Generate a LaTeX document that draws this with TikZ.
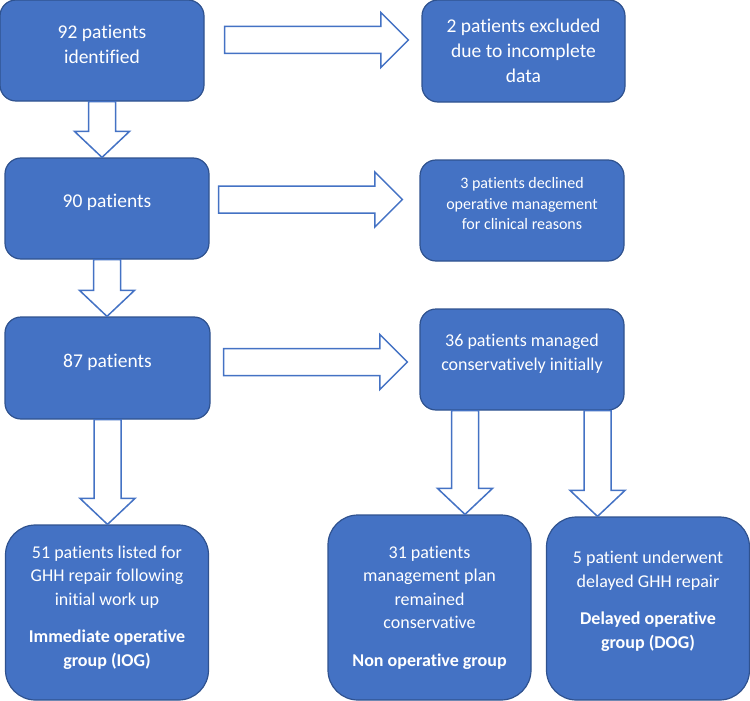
\documentclass[tikz,border=0pt]{standalone}
\usepackage{fontspec}
\setmainfont{Carlito}[Ligatures=NoCommon]
\usetikzlibrary{calc}
\definecolor{boxblue}{RGB}{68,114,196}
\definecolor{boxedge}{RGB}{47,82,143}
\definecolor{arrblue}{RGB}{68,114,196}

\begin{document}
\begin{tikzpicture}[
  x=1pt, y=-1pt,
  box/.style={draw=boxedge, fill=boxblue, line width=1.2pt, rounded corners=16pt, minimum width=204pt, minimum height=101pt},
  tall/.style={box, rounded corners=30pt, minimum width=203pt},
  txt/.style={text=white, align=center, font=\fontsize{19.5}{25}\selectfont},
  sml/.style={txt, font=\fontsize{16}{20.5}\selectfont},
  mid/.style={txt, font=\fontsize{18}{23.5}\selectfont},
  fatright/.style={draw=arrblue, fill=white, line width=1.5pt,
    to path={let \p1=(\tikztostart), \p2=(\tikztotarget) in
      (\x1,\y1+13.5) -- (\x2-27.5,\y1+13.5) -- (\x2-27.5,\y1+27.5) -- (\x2,\y1)
      -- (\x2-27.5,\y1-27.5) -- (\x2-27.5,\y1-13.5) -- (\x1,\y1-13.5) -- cycle}},
  fatdown/.style={draw=arrblue, fill=white, line width=1.5pt,
    to path={let \p1=(\tikztostart), \p2=(\tikztotarget) in
      (\x1-13.5,\y1) -- (\x1-13.5,\y2+26) -- (\x1-27.5,\y2+26) -- (\x1,\y2)
      -- (\x1+27.5,\y2+26) -- (\x1+13.5,\y2+26) -- (\x1+13.5,\y1) -- cycle}}
]
\useasboundingbox (0,0) rectangle (750,701);
\node[box, label={[txt,yshift=6pt]center:{92 patients\\identified}}] (id92) at (102,50.5) {};
\node[box, minimum width=203pt, minimum height=102pt, label={[txt]center:{2 patients excluded\\due to incomplete\\data}}] (excl) at (523.5,51) {};
\node[box, label={[txt,yshift=6.5pt]center:{90 patients}}] (p90) at (107,208.5) {};
\node[box, label={[sml,yshift=6.5pt]center:{3 patients declined\\operative management\\for clinical reasons}}] (decl) at (522,210.5) {};
\node[box, minimum width=205pt, minimum height=102pt, label={[txt,yshift=6pt]center:{87 patients}}] (p87) at (107.5,368) {};
\node[box, label={[mid,yshift=6pt]center:{36 patients managed\\conservatively initially}}] (cons) at (522,359.5) {};
\node[tall, minimum height=175pt, label={[mid,yshift=5pt]center:{51 patients listed for\\GHH repair following\\initial work up\\[14pt]\textbf{Immediate operative}\\\textbf{group (IOG)}}}] (iog) at (107,612.5) {};
\node[tall, minimum height=185pt, label={[mid]center:{31 patients\\management plan\\remained\\conservative\\[14pt]\textbf{Non operative group}}}] (nog) at (429.5,607.5) {};
\node[tall, minimum height=183pt, label={[mid,yshift=7pt]center:{5 patient underwent\\delayed GHH repair\\[14pt]\textbf{Delayed operative}\\\textbf{group (DOG)}}}] (dog) at (648,608.5) {};
\draw[fatright] ($(id92.east)+(20,-10.5)$) to ($(excl.west)+(-13,0)$);
\draw[fatright] ($(p90.east)+(9,-9)$) to ($(decl.west)+(-17,0)$);
\draw[fatright] ($(p87.east)+(13,-6)$) to ($(cons.west)+(-12,0)$);
\draw[fatdown] (id92.south) to (p90.north);
\draw[fatdown] (p90.south) to (p87.north);
\draw[fatdown] (p87.south) to (iog.north);
\draw[fatdown] ($(cons.south)+(-57,0)$) to (nog.north);
\draw[fatdown] ($(cons.south)+(75.5,0)$) to (dog.north);
\end{tikzpicture}
\end{document}
